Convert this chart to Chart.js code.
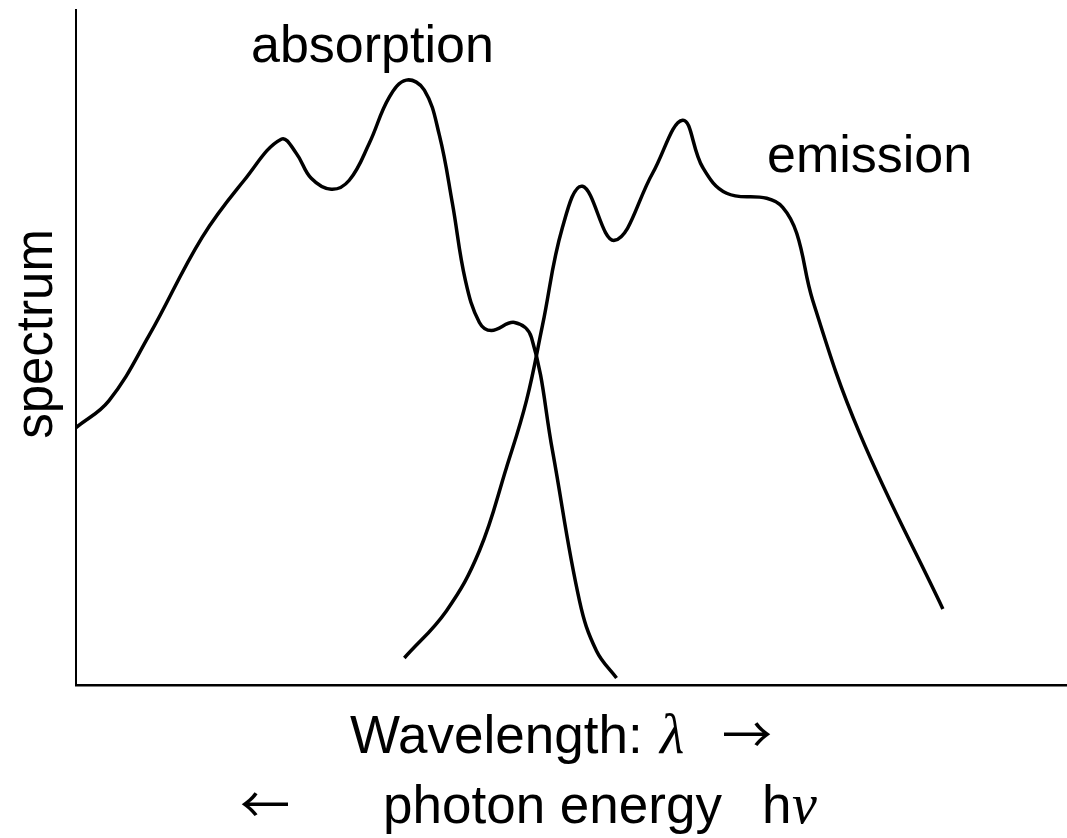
<!DOCTYPE html>
<html>
<head>
<meta charset="utf-8">
<script src="https://cdn.jsdelivr.net/npm/chart.js@4"></script>
<style>
  body { margin: 0; background: #fff; }
  canvas { display: block; }
</style>
</head>
<body>
<canvas id="spectra" width="1067" height="838"></canvas>
<script>
// Absorption curve, arbitrary units (x: wavelength, y: intensity)
const absX = [0, 33, 73, 126, 168, 205, 220, 235, 255, 273, 293, 313, 330, 348, 363, 376, 389, 403, 415, 438, 455, 476, 503, 520, 540];
const absY = [257, 284, 349, 447, 504, 545, 531, 506, 495, 504, 541, 587, 604, 594, 549, 481, 404, 362, 354, 362, 347, 234, 84, 34, 7];

// Emission curve, same units
const emiX = [328, 370, 403, 430, 450, 466, 486, 506, 538, 576, 606, 626, 650, 690, 706, 720, 736, 783, 866];
const emiY = [27, 74, 134, 217, 284, 359, 457, 498, 444, 511, 564, 517, 491, 486, 477, 451, 384, 251, 76];

const X_MAX = 990;
const Y_MAX = 674;

function toPoints(xs, ys) {
    return xs.map((x, i) => ({ x, y: ys[i] }));
}

const SANS = '"Liberation Sans", Arial, "DejaVu Sans", sans-serif';
const SERIF = '"Liberation Serif", "DejaVu Serif", serif';
const CJK = '"Noto Sans CJK JP", "DejaVu Sans", sans-serif';

// Draws curve names and axis titles as canvas text
const labelsPlugin = {
    id: 'spectraLabels',
    afterDraw(chart) {
        const ctx = chart.ctx;
        ctx.save();
        ctx.fillStyle = '#000';
        ctx.textBaseline = 'alphabetic';
        ctx.textAlign = 'left';

        ctx.font = '52px ' + SANS;
        ctx.fillText('absorption', 251, 62);
        ctx.fillText('emission', 767, 172);

        // x axis title, two lines
        ctx.font = '53px ' + SANS;
        ctx.fillText('Wavelength:', 350, 753);
        ctx.fillText('photon energy', 383, 823);
        ctx.fillText('h', 762, 823);
        ctx.font = '50px ' + CJK;
        ctx.fillText('\u2192', 722, 753);
        ctx.fillText('\u2190', 240, 823);
        ctx.font = 'italic 56px ' + SERIF;
        ctx.fillText('\u03bb', 660, 753);
        ctx.fillText('\u03bd', 792, 823);

        // y axis title
        ctx.translate(52, 334);
        ctx.rotate(-Math.PI / 2);
        ctx.textAlign = 'center';
        ctx.font = '51px ' + SANS;
        ctx.fillText('spectrum', 0, 0);
        ctx.restore();
    }
};

new Chart(document.getElementById('spectra').getContext('2d'), {
    type: 'line',
    data: {
        datasets: [
            { label: 'absorption', data: toPoints(absX, absY) },
            { label: 'emission', data: toPoints(emiX, emiY) }
        ]
    },
    options: {
        responsive: false,
        animation: false,
        layout: { padding: { left: 68, right: 0, top: 10, bottom: 145 } },
        elements: {
            line: { borderColor: '#000', borderWidth: 3.5, tension: 0.4, fill: false },
            point: { radius: 0 }
        },
        scales: {
            x: {
                type: 'linear', min: 0, max: X_MAX,
                grid: { display: false },
                border: { display: true, color: '#000', width: 2.5 },
                ticks: { display: false }
            },
            y: {
                type: 'linear', min: 0, max: Y_MAX,
                grid: { display: false },
                border: { display: true, color: '#000', width: 2 },
                ticks: { display: false }
            }
        },
        plugins: {
            legend: { display: false },
            tooltip: { enabled: false }
        }
    },
    plugins: [labelsPlugin]
});
</script>
</body>
</html>
